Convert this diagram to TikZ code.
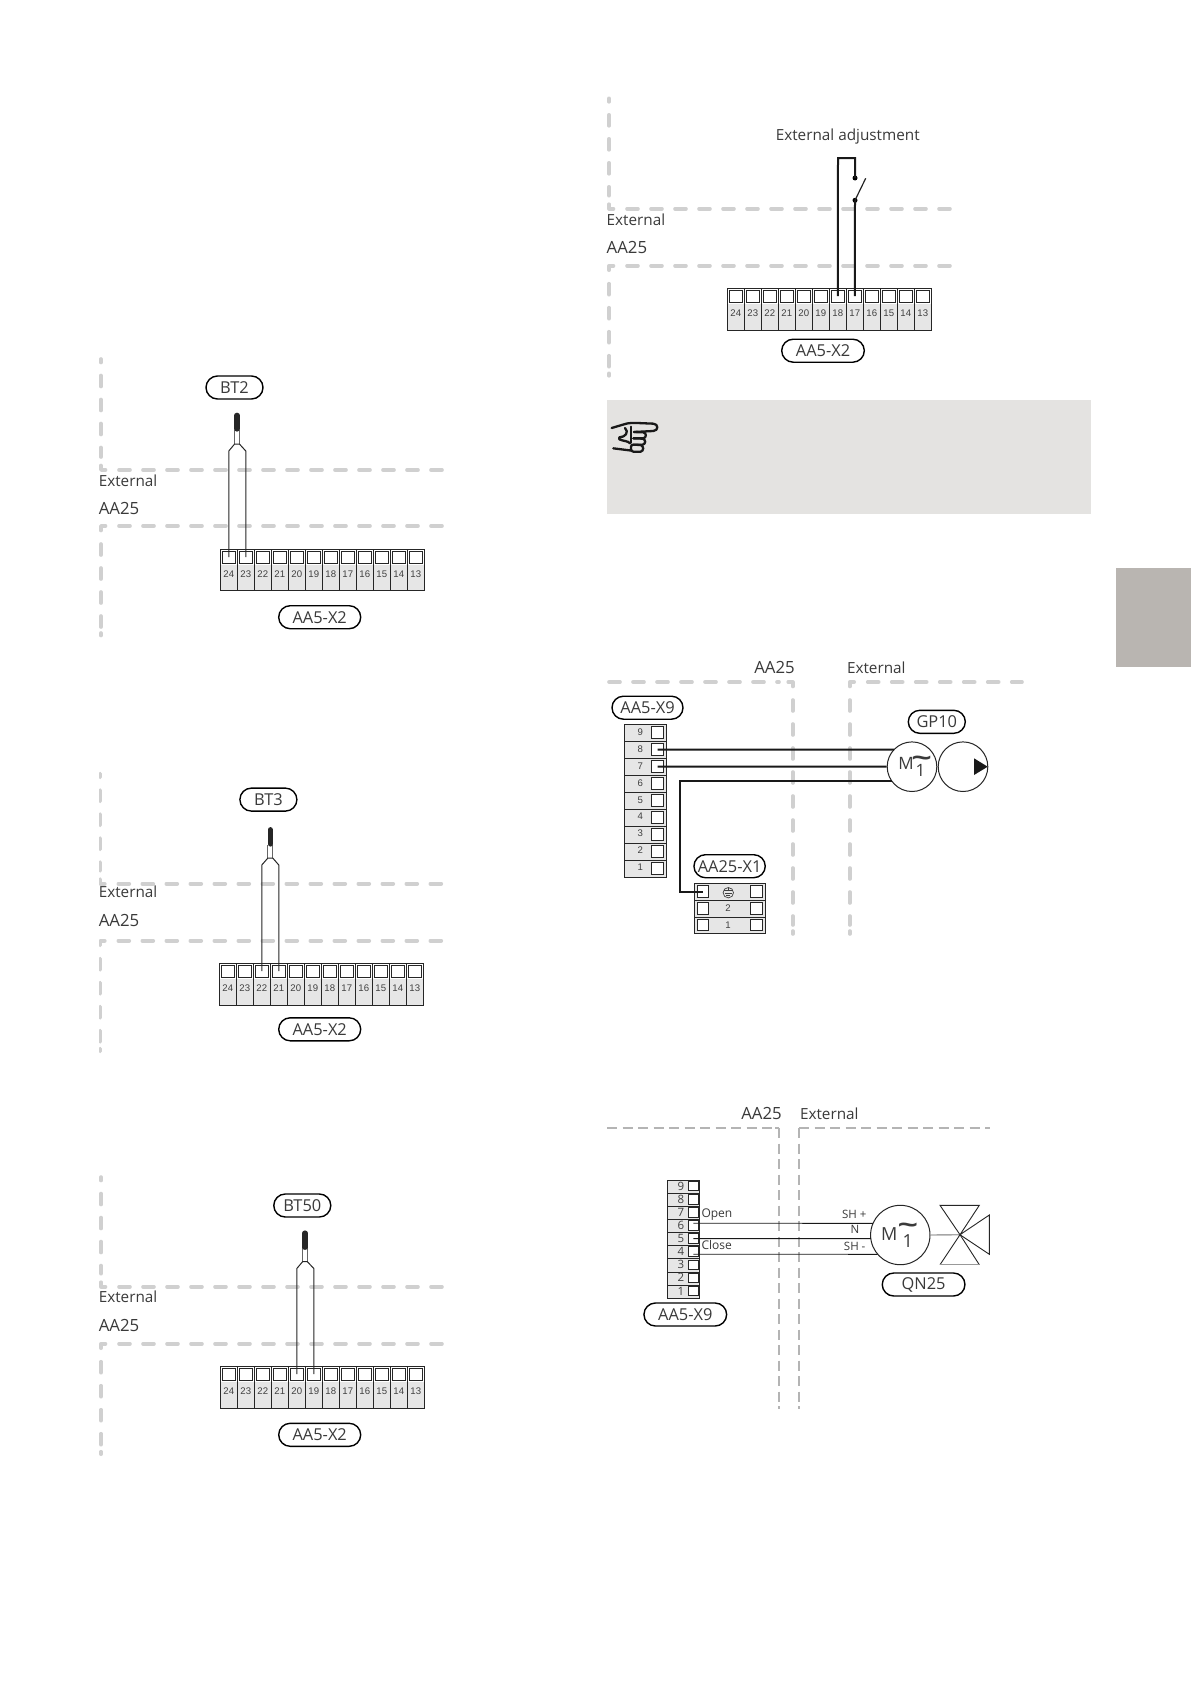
\documentclass[tikz,border=0pt]{standalone}
\usepackage{fontspec}
\setmainfont{Open Sans}
\newfontfamily\numfont{Liberation Sans}
\usetikzlibrary{shapes.misc,calc}
\definecolor{txt}{HTML}{3A3A3A}
\definecolor{dashgrey}{HTML}{D0D0D0}
\definecolor{dashthin}{HTML}{B4B4B4}
\definecolor{cellgrey}{HTML}{E6E6E6}
\definecolor{notegrey}{HTML}{E4E3E1}
\definecolor{tabgrey}{HTML}{B9B5B1}
\tikzset{
  bound/.style={draw=dashgrey,line width=3.6pt,line cap=round,line join=round,dash pattern=on 11pt off 13pt},
  solidbound/.style={draw=dashgrey,line width=3.6pt,line cap=round,line join=round},
  thinbound/.style={draw=dashthin,line width=1.8pt,dash pattern=on 10pt off 5.5pt},
  lbl/.style={anchor=base west,inner sep=0pt,text=txt,font=\fontsize{15.3}{18}\selectfont},
  lblr/.style={lbl,anchor=base east},
  aalbl/.style={lbl,font=\fontsize{16.8}{18}\selectfont},
  aalblr/.style={aalbl,anchor=base east},
  small/.style={anchor=base,inner sep=0pt,text=txt,font=\fontsize{11.5}{13}\selectfont},
  pill/.style={draw=black,line width=1.4pt,fill=white,rounded rectangle,inner sep=0pt,minimum height=23pt,text=txt,font=\fontsize{16.4}{18}\selectfont},
  cellbox/.style={draw=black!85,line width=0.8pt,inner sep=0pt,fill=cellgrey},
  sq/.style={draw=black!85,line width=0.9pt,fill=white,inner sep=0pt},
  num/.style={inner sep=0pt,anchor=base,text=black!75,font=\numfont\fontsize{9.6}{11}\selectfont},
  wire/.style={draw=black!90,line width=2pt,line join=miter},
  senswire/.style={draw=black!85,line width=1pt},
  thinwire/.style={draw=black!90,line width=0.9pt},
  motor/.style={circle,draw=black!85,line width=1pt,fill=white,inner sep=0pt},
  mtext/.style={inner sep=0pt,anchor=base,text=txt,font=\fontsize{16}{18}\selectfont},
  tilde/.style={inner sep=0pt,text=txt,transform shape,xscale=1.5,font=\bfseries\fontsize{24}{26}\selectfont}
}
% hook at a corner: corner x, y, sign of vertical, sign of horizontal
\newcommand{\hook}[4]{\draw[solidbound] (#1,#2+#3*4.5) -- (#1,#2) -- (#1+#4*4.5,#2);}
% panel: left, top, h1, h2, bottom, right
\newcommand{\hpanel}[6]{%
  \draw[bound,dash phase=7.5pt] (#1,#2+1) -- (#1,#3-13);
  \hook{#1}{#3}{-1}{1}
  \draw[bound] (#1+18,#3) -- (#6,#3);
  \hook{#1}{#4}{1}{1}
  \draw[bound] (#1+18,#4) -- (#6,#4);
  \draw[bound] (#1,#4+18) -- (#1,#5-10);
  \draw[solidbound] (#1,#5-4) -- (#1,#5-1.5);
}
% horizontal 24..13 strip: prefix, x0, y0, y1
\newcommand{\hstrip}[4]{%
  \foreach \n [count=\i from 0] in {24,23,...,13} {
    \node[cellbox,minimum width=17pt,minimum height={(#4-#3)*1pt},anchor=north west] (#1c\n) at ({#2+17*\i},#3) {};
    \fill[white] ({#2+17*\i+0.5},#3+0.5) rectangle ({#2+17*\i+16.5},#3+15.5);
    \node[sq,minimum width=12.4pt,minimum height=12.4pt] (#1s\n) at ({#2+17*\i+8.5},#3+7.9) {};
    \node[num] (#1n\n) at ({#2+17*\i+8.5},#3+27.9) {\n};
  }
}
% sensor: name, cx, tip, blackend, neckbot, shoulder, left square, right square
\newcommand{\sensor}[8]{%
  \coordinate (#1a) at (#2-8.7,#6);
  \coordinate (#1b) at (#2+8.7,#6);
  \fill[white] (#2-2.4,#4) rectangle (#2+2.4,#5);
  \draw[draw=black!60,line width=0.9pt] (#2-2.4,#4) -- (#2-2.4,#5) (#2+2.4,#4) -- (#2+2.4,#5);
  \draw[line width=5.2pt,line cap=round,black!85] (#2,#3+2) -- (#2,#4-1);
  \draw[senswire] (#7.center) -- (#7.center |- #1a) -- (#2-2.4,#5) -- (#2+2.4,#5) -- (#8.center |- #1b) -- (#8.center);
}
\begin{document}
\begin{tikzpicture}[x=1pt,y=-1pt]
\useasboundingbox (0,0) rectangle (1191,1684);
\fill[white] (0,0) rectangle (1191,1684);
\fill[notegrey] (607,400) rectangle (1091,514);
\fill[tabgrey] (1116,568.3) rectangle (1191,666.7);

% hand icon
\begin{scope}[shift={(600,400)},x=0.3333pt,y=-0.3333pt,line width=2.3pt,black!90,line cap=round,line join=round]
  \draw (35,84) -- (72,73) .. controls (85,68) and (100,69) .. (112,69) -- (160,71) .. controls (176,72) and (176,92) .. (160,93) -- (102,96);
  \draw (75,84) .. controls (88,96) and (76,112) .. (58,112) -- (58,118) .. controls (70,124) and (84,122) .. (90,130);
  \draw (92,80) -- (92,128);
  \draw (102,96) -- (130,97) .. controls (140,99) and (140,113) .. (130,115) -- (100,115);
  \draw (100,115) -- (128,116) .. controls (138,118) and (138,132) .. (128,134) -- (100,134);
  \draw (100,134) -- (122,135) .. controls (132,138) and (132,153) .. (122,155) -- (100,155) .. controls (92,155) and (90,142) .. (96,134);
  \draw (40,145) -- (96,152);
\end{scope}

% ===== BT2 =====
\hpanel{101}{358}{470}{526}{637}{446}
\node[lbl] (aext) at (98.6,486) {External};
\node[aalbl] (aaa) at (98.6,514) {AA25};
\hstrip{a}{220.3}{549.3}{590.3}
\node[pill,minimum width=57pt] (bt2) at (234.5,387.5) {BT2};
\node[pill,minimum width=82pt] (ax2) at (319.7,617.2) {AA5-X2};
\sensor{as}{237}{413.3}{430}{444}{451}{as24}{as23}

% ===== BT3 =====
\hpanel{100.3}{772.7}{883.7}{940.7}{1052.7}{446}
\node[lbl] (bext) at (98.6,897) {External};
\node[aalbl] (baa) at (98.6,926.2) {AA25};
\hstrip{b}{219.3}{963.3}{1005.3}
\node[pill,minimum width=57pt] (bt3) at (268.4,799.6) {BT3};
\node[pill,minimum width=82pt] (bx2) at (319.7,1029.3) {AA5-X2};
\sensor{bs}{270.3}{827.7}{845}{858}{865}{bs22}{bs21}

% ===== BT50 =====
\hpanel{101}{1176}{1286.7}{1343.7}{1455.7}{446}
\node[lbl] (cext) at (98.6,1302.7) {External};
\node[aalbl] (caa) at (98.6,1331.2) {AA25};
\hstrip{c}{220.3}{1366.3}{1408.3}
\node[pill,minimum width=57pt] (bt50) at (302.3,1205.5) {BT50};
\node[pill,minimum width=82pt] (cx2) at (319.7,1434.8) {AA5-X2};
\sensor{cs}{305}{1231}{1248.3}{1261.7}{1268.5}{cs20}{cs19}

% ===== External adjustment =====
\hpanel{609}{97.3}{208.7}{265.7}{377.3}{953}
\node[lbl] (dext) at (606.5,225) {External};
\node[aalbl] (daa) at (606.5,253.5) {AA25};
\node[lbl] (dtitle) at (775.6,140) {External adjustment};
\hstrip{d}{727.3}{288.3}{330.3}
\node[pill,minimum width=82.6pt] (dx2) at (823,350.7) {AA5-X2};
\coordinate (dk) at (838,158);
\node[circle,fill=black,inner sep=0pt,minimum size=5pt] (dt1) at (855,178) {};
\node[circle,fill=black,inner sep=0pt,minimum size=5pt] (dt2) at (855,200.3) {};
\coordinate (darm) at (865.7,178.3);
\draw[wire] (ds18.center) -- (dk) -- (dk -| dt1) -- (dt1.center);
\draw[wire] (ds17.center) -- (dt2.center);
\draw[black!85,line width=1.2pt] (dt2.center) -- (darm);

% ===== GP10 =====
\draw[bound] (609,682) -- (779,682);
\hook{792.7}{682}{1}{-1}
\draw[bound] (792.7,700) -- (792.7,925);
\draw[solidbound] (792.7,931) -- (792.7,934);
\hook{849.7}{682}{1}{1}
\draw[bound] (849.7,700) -- (849.7,925);
\draw[solidbound] (849.7,931) -- (849.7,934);
\draw[bound] (867.7,682) -- (1022,682);
\node[aalblr] (eaa) at (795,673.3) {AA25};
\node[lbl] (eext) at (846.8,673.3) {External};
\node[pill,minimum width=71pt] (ex9) at (647.5,707.7) {AA5-X9};
\foreach \n [count=\i from 0] in {9,8,...,1} {
  \node[cellbox,minimum width=41.4pt,minimum height=16.93pt,anchor=north west] (ec\n) at (624.3,{724.3+16.93*\i}) {};
  \node[sq,minimum width=12.6pt,minimum height=12.4pt] (es\n) at (657.6,{724.3+16.93*\i+8.4}) {};
  \node[num] (en\n) at (640.3,{724.3+16.93*\i+11}) {\n};
}
\node[pill,minimum width=71.3pt] (fx1) at (729.6,866.2) {AA25-X1};
\foreach \r/\t [count=\i from 0] in {3/,2/2,1/1} {
  \node[cellbox,minimum width=70.4pt,minimum height=16.67pt,anchor=north west] (fc\r) at (694.3,{883.3+16.67*\i}) {};
  \node[sq,minimum width=11.7pt,minimum height=11.7pt] (fl\r) at (702.9,{883.3+16.67*\i+8.2}) {};
  \node[sq,minimum width=12.3pt,minimum height=11.7pt] (fr\r) at (756.5,{883.3+16.67*\i+8.2}) {};
  \node[num] (fn\r) at (728,{883.3+16.67*\i+11.5}) {\t};
}
\draw[black!75,line width=0.7pt] (728.3,892.7) circle (5.2);
\draw[black!75,line width=0.7pt] (728.3,887.5) -- (728.3,890.5) (724,890.8) -- (732.6,890.8) (725,893.3) -- (731.6,893.3) (726.2,895.6) -- (730.4,895.6);
\node[pill,minimum width=57pt] (gp10) at (936.8,721.8) {GP10};
\node[motor,minimum size=49.6pt] (gm) at (912,766.7) {};
\node[motor,minimum size=49.6pt] (gp) at (963,766.7) {};
\fill[black!90] (974,758.3) -- (974,775) -- (987.7,766.7) -- cycle;
\node[mtext,font=\fontsize{17}{18}\selectfont] (gmm) at (906,769) {M};
\node[mtext,font=\fontsize{17}{18}\selectfont] (gm1) at (920.5,776) {1};
\node[tilde] (gmt) at (921.7,761.5) {\textasciitilde};
\coordinate (g8) at ($(gm.center)+(-18,-17)$);
\coordinate (g3) at ($(gm.center)+(-20.3,14.3)$);
\coordinate (g3k) at (680.3,781);
\draw[wire] (es8.center) -- (g8);
\draw[wire] (es7.center) -- (gm.west);
\draw[wire] (fl3.center) -- (fl3.center -| g3k) -- (g3k) -- (g3);

% ===== QN25 =====
\draw[thinbound] (607,1128) -- (773,1128);
\draw[thinbound] (775,1128) -- (779,1128);
\draw[thinbound] (779,1128) -- (779,1402);
\draw[thinbound] (779,1406) -- (779,1409.3);
\draw[thinbound] (799,1128) -- (799,1402);
\draw[thinbound] (799,1406) -- (799,1409.3);
\draw[thinbound] (799,1128) -- (990,1128);
\node[aalblr] (haa) at (782,1119.3) {AA25};
\node[lbl] (hext) at (799.8,1119.3) {External};
\foreach \n [count=\i from 0] in {9,8,...,1} {
  \node[cellbox,minimum width=32pt,minimum height=13.12pt,anchor=north west] (hc\n) at (667.3,{1179.7+13.12*\i}) {};
  \node[sq,minimum width=9.6pt,minimum height=9.6pt] (hs\n) at (693.3,{1179.7+13.12*\i+6.4}) {};
  \node[inner sep=0pt,anchor=base,text=black!75,font=\fontsize{11.5}{13}\selectfont] (hn\n) at (681,{1179.7+13.12*\i+10.4}) {\n};
}
\node[lbl,font=\fontsize{12}{14}\selectfont] (hopen) at (701.3,1217.5) {Open};
\node[lbl,font=\fontsize{12}{14}\selectfont] (hclose) at (701.3,1249.5) {Close};
\node[motor,minimum size=59.4pt] (hm) at (900.3,1235) {};
\coordinate (h6e) at ($(hm.center)+(-27.3,-11.7)$);
\coordinate (h5e) at ($(hm.center)+(-29.5,3.6)$);
\coordinate (h4e) at ($(hm.center)+(-22.6,19.3)$);
\draw[thinwire] ($(hs6.center)+(0,-2.2)$) -- (h6e);
\draw[thinwire] (hs5.center) -- (h5e);
\draw[thinwire] ($(hs4.center)+(0,2.5)$) -- (h4e);
\node[small] (hsp) at (854.3,1218) {SH +};
\node[small] (hn) at (855,1233.5) {N};
\node[small] (hsm) at (854.7,1250) {SH -};
\node[mtext,font=\fontsize{18}{20}\selectfont] (hmm) at (889.3,1240.5) {M};
\node[mtext,font=\fontsize{18}{20}\selectfont] (hm1) at (907.7,1247) {1};
\node[tilde] (hmt) at (908,1228) {\textasciitilde};
\coordinate (hv) at (960,1234.7);
\draw[draw=black!35,line width=1.4pt] (hm.east) -- (hv);
\draw[black!85,line width=0.9pt,line join=miter] (hv) -- (940,1205.3) -- (979.3,1205.3) -- (hv) -- (989.3,1215) -- (989.3,1254.3) -- (hv);
\draw[black!85,line width=0.9pt] (hv) -- (940,1264.7) (hv) -- (979.3,1264.7);
\draw[draw=black!40,line width=1.4pt] (940,1264.7) -- (979.3,1264.7);
\node[pill,minimum width=82.7pt] (qn25) at (923.6,1284.5) {QN25};
\node[pill,minimum width=82.7pt] (hx9) at (685.3,1314.5) {AA5-X9};
\end{tikzpicture}
\end{document}
